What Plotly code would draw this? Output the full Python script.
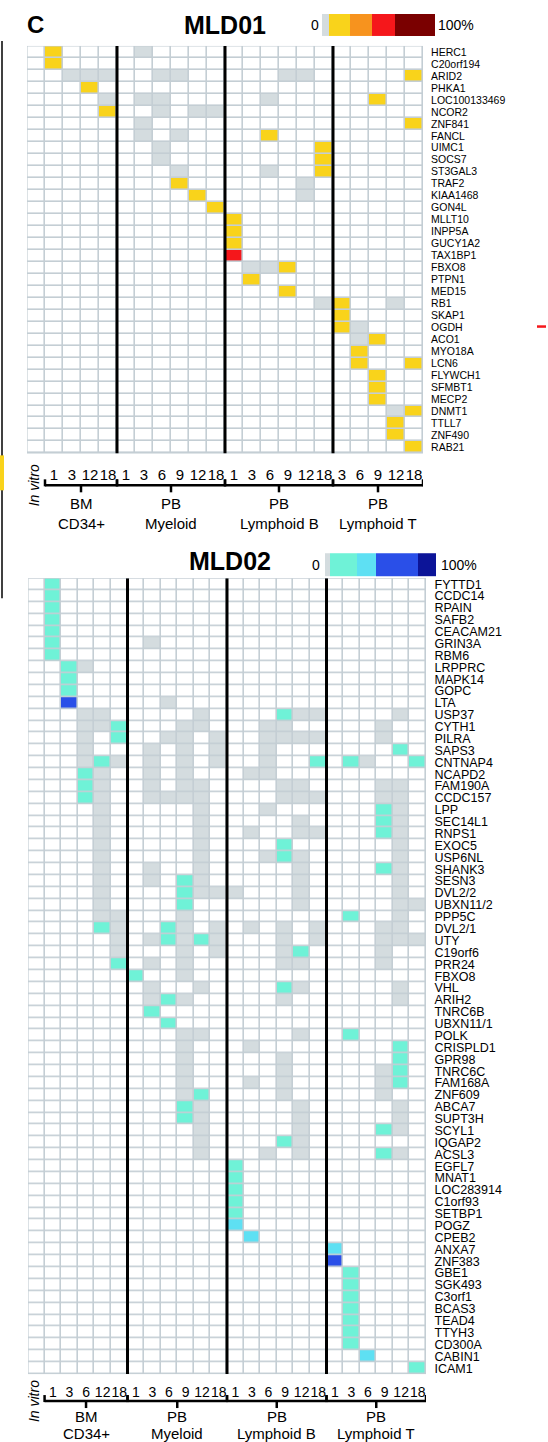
import plotly.graph_objects as go

W, H = 548, 1442
FONT = "Liberation Sans, Arial, Helvetica, sans-serif"

# ---------------- data: MLD01 ----------------
# column groups: in vitro + BM CD34+ | PB Myeloid | PB Lymphoid B | PB Lymphoid T
# cell codes: '.' not detected, 'g' detected at 0%, '1'..'4' increasing clone size bins
mld01_ticks = ["1", "3", "12", "18",
               "1", "3", "6", "9", "12", "18",
               "1", "3", "6", "9", "12", "18",
               "3", "6", "9", "12", "18"]
mld01_genes = ["HERC1", "C20orf194", "ARID2", "PHKA1", "LOC100133469", "NCOR2",
               "ZNF841", "FANCL", "UIMC1", "SOCS7", "ST3GAL3", "TRAF2", "KIAA1468",
               "GON4L", "MLLT10", "INPP5A", "GUCY1A2", "TAX1BP1", "FBXO8", "PTPN1",
               "MED15", "RB1", "SKAP1", "OGDH", "ACO1", "MYO18A", "LCN6", "FLYWCH1",
               "SFMBT1", "MECP2", "DNMT1", "TTLL7", "ZNF490", "RAB21"]
mld01_cells = [
    ".1... .g.... ...... .....",
    ".1... ...... ...... .....",
    "..ggg ..gg.. ...gg. ....1",
    "...1. ...... ...... .....",
    "....g .gg... ..g... ..1..",
    "....1 ..g.gg ...... .....",
    "..... .g.... ...... ....1",
    "..... .g.g.. ..1... .....",
    "..... ..g... .....1 .....",
    "..... ..g... .....1 .....",
    "..... ...g.. ..g..1 .....",
    "..... ...1.. ....g. .....",
    "..... ....1. ....g. .....",
    "..... .....1 ...... .....",
    "..... ...... 1..... .....",
    "..... ...... 1..... .....",
    "..... ...... 1..... .....",
    "..... ...... 3..... .....",
    "..... ...... .gg1.. .....",
    "..... ...... .1.... .....",
    "..... ...... ...1.. .....",
    "..... ...... .....g 1..g.",
    "..... ...... ...... 1....",
    "..... ...... ...... 1g...",
    "..... ...... ...... .g1..",
    "..... ...... ...... .1...",
    "..... ...... ...... .1..1",
    "..... ...... ...... ..1..",
    "..... ...... ...... ..1..",
    "..... ...... ...... ..1..",
    "..... ...... ...... ...g1",
    "..... ...... ...... ...1.",
    "..... ...... ...... ...1.",
    "..... ...... ...... ....1",
]
mld01_colors = ["#ffffff", "#d4dcdf", "#f9d31b", "#f7931e", "#f5171b", "#7a0000"]

# ---------------- data: MLD02 ----------------
mld02_ticks = ["1", "3", "6", "12", "18",
               "1", "3", "6", "9", "12", "18",
               "1", "3", "6", "9", "12", "18",
               "1", "3", "6", "9", "12", "18"]
mld02_genes = ["FYTTD1", "CCDC14", "RPAIN", "SAFB2", "CEACAM21", "GRIN3A", "RBM6",
               "LRPPRC", "MAPK14", "GOPC", "LTA", "USP37", "CYTH1", "PILRA", "SAPS3",
               "CNTNAP4", "NCAPD2", "FAM190A", "CCDC157", "LPP", "SEC14L1", "RNPS1",
               "EXOC5", "USP6NL", "SHANK3", "SESN3", "DVL2/2", "UBXN11/2", "PPP5C",
               "DVL2/1", "UTY", "C19orf6", "PRR24", "FBXO8", "VHL", "ARIH2", "TNRC6B",
               "UBXN11/1", "POLK", "CRISPLD1", "GPR98", "TNRC6C", "FAM168A", "ZNF609",
               "ABCA7", "SUPT3H", "SCYL1", "IQGAP2", "ACSL3", "EGFL7", "MNAT1",
               "LOC283914", "C1orf93", "SETBP1", "POGZ", "CPEB2", "ANXA7", "ZNF383",
               "GBE1", "SGK493", "C3orf1", "BCAS3", "TEAD4", "TTYH3", "CD300A",
               "CABIN1", "ICAM1"]
mld02_cells = [
    ".1.... ...... ...... ......",
    ".1.... ...... ...... ......",
    ".1.... ...... ...... ......",
    ".1.... ...... ...... ......",
    ".1.... ...... ...... ......",
    ".1.... .g.... ...... ......",
    ".1.... ...... ...... ......",
    "..1g.. ...... ...... ......",
    "..1... ...... ...... ......",
    "..1... ...... ...... ......",
    "..3... ..g... ...... ......",
    "...gg. ....g. ...1gg ....g.",
    "...gg1 ...gg. ..gg.. ...g..",
    "...g.1 ..gg.g ..gggg ...g..",
    "...g.. .g.g.g ..g... ....1.",
    "...g1g .g.g.g ..g..1 .1g..1",
    "...1g. .g.g.. .gg... ......",
    "...1g. .g.gg. ...gg. ...gg.",
    "...1g. .gggg. ...ggg ...gg.",
    "....g. ....g. ..g... ...1g.",
    "....g. ....g. ....g. ...1g.",
    "....g. ....g. .g..gg ...1g.",
    "....g. ....g. ...1.. ....g.",
    "....g. ....g. ..g1g. ....g.",
    "....g. .g..g. ....g. ...1g.",
    "....g. .g.1g. ....g. ....g.",
    "....g. ...1gg g...g. ....g.",
    "....g. ...1.. ....g. ....gg",
    "....gg ...g.. ...... .1..g.",
    "....1g ..1g.g .g.g.g ...gg.",
    ".....g .g1g1g ...g.g ...ggg",
    ".....g ...g.g ...g1. ...g..",
    ".....1 .g.g.. ...gg. ...g..",
    "...... 1..g.. ...... ......",
    "...... .g..g. ...1g. ....g.",
    "...... .g1g.. ...g.. ....g.",
    "...... .1.... ...... ......",
    "...... ..1... ...... ......",
    "...... ...gg. ....g. .1....",
    "...... ...g.. .g.... ....1.",
    "...... ...g.. ...g.. ....1.",
    "...... ...g.. ...g.. ...g1.",
    "...... ...g.. .g.g.. ...g1.",
    "...... ...g1. ...g.. ...g..",
    "...... ...1g. ....g. ....g.",
    "...... ...1g. ....g. ....g.",
    "...... ....g. ....g. ...1g.",
    "...... ....g. ...1g. ......",
    "...... ....g. ..g.g. ...1g.",
    "...... ...... 1..... ......",
    "...... ...... 1..... ......",
    "...... ...... 1..... ......",
    "...... ...... 1..... ......",
    "...... ...... 1..... ......",
    "...... ...... 2..... ......",
    "...... ...... .2.... ......",
    "...... ...... ...... 2.....",
    "...... ...... ...... 3.....",
    "...... ...... ...... .1....",
    "...... ...... ...... .1....",
    "...... ...... ...... .1....",
    "...... ...... ...... .1....",
    "...... ...... ...... .1....",
    "...... ...... ...... .1....",
    "...... ...... ...... .1....",
    "...... ...... ...... ..2...",
    "...... ...... ...... .....1",
]
mld02_colors = ["#ffffff", "#d4dcdf", "#6ff2d7", "#5ee0f3", "#2a4fe8", "#0c1498"]

group_titles = [("BM", "CD34+"), ("PB", "Myeloid"), ("PB", "Lymphoid B"), ("PB", "Lymphoid T")]

CODE = {".": 0, "g": 1, "1": 2, "2": 3, "3": 4, "4": 5}
GRID = "#c4ced4"


def px(x):
    return x / W


def py(y):
    return 1 - y / H


def to_z(rows):
    return [[CODE[c] for c in r.replace(" ", "")] for r in rows]


def discrete(colors):
    n = len(colors)
    cs = []
    for i, c in enumerate(colors):
        cs += [[i / n, c], [(i + 1) / n, c]]
    return cs


fig = go.Figure()
shapes = []
annotations = []


def panel(idx, genes, cells, ticks, colors, x_px, y_px, sep_after, label_size,
          tick_size, offs):
    # offs: (tick label gap, bracket line, first title line, second title line)
    xa = "x" if idx == 1 else f"x{idx}"
    ya = "y" if idx == 1 else f"y{idx}"
    z = to_z(cells)
    ncol = len(z[0])
    nrow = len(genes)
    fig.add_trace(go.Heatmap(
        z=z, x=list(range(ncol)), y=list(range(nrow)),
        colorscale=discrete(colors), zmin=-0.5, zmax=len(colors) - 0.5,
        showscale=False, xgap=1.6, ygap=1.6, hoverinfo="skip",
        xaxis=xa, yaxis=ya))
    key = "" if idx == 1 else str(idx)
    fig.update_layout(**{
        f"xaxis{key}": dict(
            domain=[px(x_px[0]), px(x_px[1])], range=[-0.5, ncol - 0.5],
            anchor=ya, tickmode="array", tickvals=list(range(1, ncol)), ticktext=ticks,
            tickangle=0, ticks="outside", ticklen=offs[0], tickcolor="rgba(0,0,0,0)",
            tickfont=dict(size=tick_size, color="black", family=FONT),
            showgrid=False, zeroline=False, showline=False, fixedrange=True),
        f"yaxis{key}": dict(
            domain=[py(y_px[1]), py(y_px[0])], range=[nrow - 0.5, -0.5],
            anchor=xa, side="right", tickmode="array", tickvals=list(range(nrow)),
            ticktext=genes, ticks="outside", ticklen=5, tickcolor="rgba(0,0,0,0)",
            tickfont=dict(size=label_size, color="black", family=FONT),
            showgrid=False, zeroline=False, showline=False, fixedrange=True),
    })
    # outer border of the grid
    shapes.append(dict(type="rect", xref=xa, yref=ya, x0=-0.5, x1=ncol - 0.5,
                       y0=-0.5, y1=nrow - 0.5, line=dict(color=GRID, width=1.2)))
    # thick separators between tissue groups
    for s in sep_after:
        shapes.append(dict(type="line", xref=xa, yref=ya, x0=s, x1=s,
                           y0=-0.5, y1=nrow - 0.5 + 0.15, line=dict(color="black", width=3)))
    # brackets under the time-point labels
    bounds = [0.5] + list(sep_after) + [ncol - 0.5]
    yb = y_px[1] + offs[1]
    for g in range(4):
        a, b = bounds[g], bounds[g + 1]
        mid = (a + b) / 2
        shapes.append(dict(type="line", xref=xa, yref="paper", x0=a, x1=b,
                           y0=py(yb), y1=py(yb), line=dict(color="black", width=2.5)))
        for e in (a, b):
            shapes.append(dict(type="line", xref=xa, yref="paper", x0=e, x1=e,
                               y0=py(yb - 6), y1=py(yb + 1), line=dict(color="black", width=2.5)))
        shapes.append(dict(type="line", xref=xa, yref="paper", x0=mid, x1=mid,
                           y0=py(yb), y1=py(yb + 7), line=dict(color="black", width=2.5)))
        for k, txt in enumerate(group_titles[g]):
            annotations.append(dict(xref=xa, yref="paper", x=mid, y=py(y_px[1] + offs[2 + k]),
                                    text=txt, showarrow=False, xanchor="center",
                                    yanchor="middle",
                                    font=dict(size=15, color="black", family=FONT)))
    annotations.append(dict(xref="paper", yref="paper", x=px(34), y=py(yb),
                            text="<i>In vitro</i>", textangle=-90, showarrow=False,
                            xanchor="center", yanchor="middle",
                            font=dict(size=14, color="black", family=FONT)))


panel(1, mld01_genes, mld01_cells, mld01_ticks, mld01_colors,
      (27, 423), (45, 453), (4.5, 10.5, 16.5), 10.5, 15, (8, 32, 50, 70))
panel(2, mld02_genes, mld02_cells, mld02_ticks, mld02_colors,
      (28, 426), (578, 1375), (5.5, 11.5, 17.5), 12.5, 14, (5, 27, 42, 59))


# colour keys
def color_key(edges, colors, y0, y1, x_zero, x_pct):
    for i, c in enumerate(colors):
        shapes.append(dict(type="rect", xref="paper", yref="paper",
                           x0=px(edges[i]), x1=px(edges[i + 1]), y0=py(y1), y1=py(y0),
                           fillcolor=c, line=dict(width=0)))
    ym = (y0 + y1) / 2
    annotations.append(dict(xref="paper", yref="paper", x=px(x_zero), y=py(ym), text="0",
                            showarrow=False, xanchor="center", yanchor="middle",
                            font=dict(size=14, color="black", family=FONT)))
    annotations.append(dict(xref="paper", yref="paper", x=px(x_pct), y=py(ym), text="100%",
                            showarrow=False, xanchor="left", yanchor="middle",
                            font=dict(size=14, color="black", family=FONT)))


color_key([322, 329, 350, 372, 395, 435], mld01_colors[1:], 13, 35, 315, 436)
color_key([325, 330, 357, 376, 418, 436], mld02_colors[1:], 553, 576, 316, 439)

# titles
annotations.append(dict(xref="paper", yref="paper", x=px(225), y=py(24), text="<b>MLD01</b>",
                        showarrow=False, xanchor="center", yanchor="middle",
                        font=dict(size=25, color="black", family=FONT)))
annotations.append(dict(xref="paper", yref="paper", x=px(230), y=py(561), text="<b>MLD02</b>",
                        showarrow=False, xanchor="center", yanchor="middle",
                        font=dict(size=25, color="black", family=FONT)))
annotations.append(dict(xref="paper", yref="paper", x=px(35), y=py(24), text="<b>C</b>",
                        showarrow=False, xanchor="center", yanchor="middle",
                        font=dict(size=24, color="black", family=FONT)))

# edge of the neighbouring panel on the left
shapes.append(dict(type="line", xref="paper", yref="paper", x0=px(2), x1=px(2),
                   y0=py(40), y1=py(598), line=dict(color="black", width=1.5)))
shapes.append(dict(type="rect", xref="paper", yref="paper", x0=0, x1=px(4),
                   y0=py(490), y1=py(455), fillcolor="#f9d31b", line=dict(width=0)))
shapes.append(dict(type="line", xref="paper", yref="paper", x0=px(537), x1=px(546),
                   y0=py(326), y1=py(326), line=dict(color="#f5171b", width=2.5)))

fig.update_layout(width=W, height=H, margin=dict(l=0, r=0, t=0, b=0),
                  paper_bgcolor="white", plot_bgcolor=GRID, showlegend=False,
                  shapes=shapes, annotations=annotations,
                  font=dict(family=FONT, color="black"))

fig.write_html("out.html")
